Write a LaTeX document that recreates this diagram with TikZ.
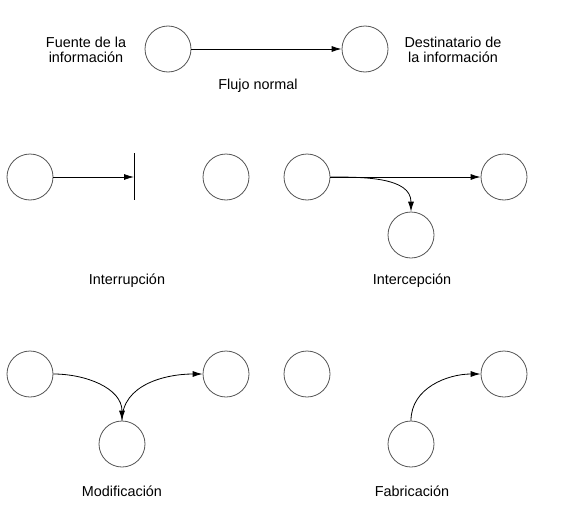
\documentclass[tikz,border=0pt]{standalone}
\usepackage{fontspec}
\setmainfont{Liberation Sans}
\usetikzlibrary{arrows.meta}

\begin{document}
\begin{tikzpicture}[x=1pt, y=-1pt]
    \definecolor{circleColour}{HTML}{555555}

    \tikzset{
        party/.style={circle, draw=circleColour, line width=0.8pt, minimum size=46pt, inner sep=0pt},
        flow/.style={-{Latex[length=10pt,width=6pt]}, line width=0.8pt},
        caption/.style={font=\fontsize{14.4}{15.5}\selectfont, align=center}
    }

    \useasboundingbox (0,0) rectangle (562,506);

    % Normal flow
    \node[party] (src) at (168,49) {};
    \node[party] (dst) at (365,49) {};
    \draw[flow] (src.east) -- (dst.west);
    \node[caption] (srcText) at (86,50) {Fuente de la\\información};
    \node[caption] (dstText) at (453,50) {Destinatario de\\la información};
    \node[caption] (normalText) at (258,86) {Flujo normal};

    % Interruption
    \node[party] (intSrc) at (30,177) {};
    \node[party] (intDst) at (226,177) {};
    \coordinate (cut) at (134,177);
    \draw[line width=0.8pt] ([yshift=24pt]cut) -- ([yshift=-23pt]cut);
    \draw[flow] (intSrc.east) -- (cut);
    \node[caption] (intText) at (127,281) {Interrupción};

    % Interception
    \node[party] (capSrc) at (307,177) {};
    \node[party] (capDst) at (504,177) {};
    \node[party] (capSpy) at (411,235) {};
    \draw[flow] (capSrc.east) -- (capDst.west);
    \draw[flow] (capSrc.east) to[out=0, in=90] (capSpy.north);
    \node[caption] (capText) at (412,281) {Intercepción};

    % Modification
    \node[party] (modSrc) at (30,374) {};
    \node[party] (modDst) at (226,374) {};
    \node[party] (modSpy) at (122,444) {};
    \draw[flow] (modSrc.east) to[out=0, in=90] (modSpy.north);
    \draw[flow] (modSpy.north) to[out=90, in=180] (modDst.west);
    \node[caption] (modText) at (122,491) {Modificación};

    % Fabrication
    \node[party] (fabSrc) at (307,374) {};
    \node[party] (fabDst) at (504,374) {};
    \node[party] (fabSpy) at (411,444) {};
    \draw[flow] (fabSpy.north) to[out=90, in=180] (fabDst.west);
    \node[caption] (fabText) at (412,491) {Fabricación};

\end{tikzpicture}
\end{document}
